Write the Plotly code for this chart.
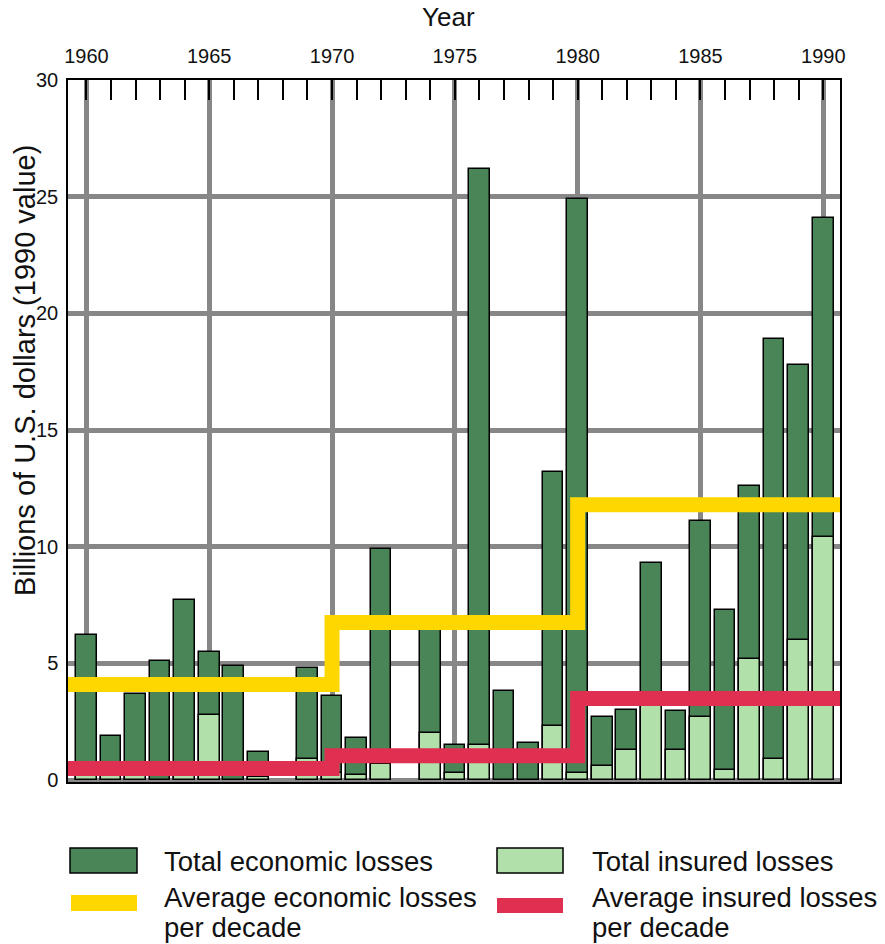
import plotly.graph_objects as go

# ---------------- data ----------------
years = list(range(1960, 1991))
economic_losses = [6.2, 1.9, 3.7, 5.1, 7.7, 5.5, 4.9, 1.2, None, 4.8,
                   3.6, 1.8, 9.9, None, 6.5, 1.5, 26.2, 3.8, 1.6, 13.2,
                   24.9, 2.7, 3.0, 9.3, 2.95, 11.1, 7.3, 12.6, 18.9, 17.8,
                   24.1]
insured_losses = [0.3, 0.3, 0.3, None, 0.3, 2.8, None, 0.15, None, 0.9,
                  0.3, 0.2, 0.7, None, 2.0, 0.3, 1.5, None, None, 2.3,
                  0.3, 0.6, 1.3, 3.3, 1.3, 2.7, 0.43, 5.2, 0.9, 6.0,
                  10.4]
decade_edges = [1959.25, 1970, 1980, 1990.68]
avg_economic = [4.1, 6.75, 11.8, 11.8]
avg_insured = [0.5, 1.04, 3.5, 3.5]
major_years = [1960, 1965, 1970, 1975, 1980, 1985, 1990]
y_ticks = [0, 5, 10, 15, 20, 25, 30]

DARK = "#4a8558"
LIGHT = "#b2e0aa"
YELLOW = "#ffd700"
RED = "#e03052"
GRID = "#878787"
FONT = "Liberation Sans, Arial, sans-serif"

fig = go.Figure()
fig.add_trace(go.Bar(x=years, y=economic_losses, width=0.84,
                     marker=dict(color=DARK, line=dict(color="black", width=1.5)),
                     name="Total economic losses"))
fig.add_trace(go.Bar(x=years, y=insured_losses, width=0.84,
                     marker=dict(color=LIGHT, line=dict(color="black", width=1.5)),
                     name="Total insured losses"))
fig.add_trace(go.Scatter(x=decade_edges, y=avg_economic, mode="lines",
                         line=dict(color=YELLOW, width=15, shape="hv"),
                         name="Average economic losses per decade"))
fig.add_trace(go.Scatter(x=decade_edges, y=avg_insured, mode="lines",
                         line=dict(color=RED, width=15, shape="hv"),
                         name="Average insured losses per decade"))

# legend drawn manually (paper coordinates, from page pixel positions)
def px_x(p):
    return (p - 68) / 772

def px_y(p):
    return (782 - p) / 702

shapes = [
    dict(type="rect", xref="paper", yref="paper", x0=px_x(70), x1=px_x(137),
         y0=px_y(848), y1=px_y(873), fillcolor=DARK, line=dict(color="black", width=1.5)),
    dict(type="rect", xref="paper", yref="paper", x0=px_x(497), x1=px_x(563),
         y0=px_y(848), y1=px_y(873), fillcolor=LIGHT, line=dict(color="black", width=1.5)),
    dict(type="rect", xref="paper", yref="paper", x0=px_x(71), x1=px_x(137),
         y0=px_y(895), y1=px_y(911), fillcolor=YELLOW, line=dict(width=0)),
    dict(type="rect", xref="paper", yref="paper", x0=px_x(497), x1=px_x(563),
         y0=px_y(898), y1=px_y(913), fillcolor=RED, line=dict(width=0)),
]

legend_font = dict(family=FONT, size=27.5, color="#111")

def legend_text(text, x, y):
    return dict(text=text, xref="paper", yref="paper", x=px_x(x), y=px_y(y),
                xanchor="left", yanchor="middle", showarrow=False, font=legend_font)

annotations = [
    legend_text("Total economic losses", 162, 862),
    legend_text("Total insured losses", 590, 862),
    legend_text("Average economic losses", 162, 897),
    legend_text("per decade", 162, 927),
    legend_text("Average insured losses", 590, 897),
    legend_text("per decade", 590, 927),
    dict(text="Year", xref="paper", yref="paper", x=px_x(448), y=px_y(17),
         xanchor="center", yanchor="middle", showarrow=False,
         font=dict(family=FONT, size=26, color="#111")),
    dict(text="Billions of U.S. dollars (1990 value)", xref="paper", yref="paper",
         x=px_x(25), y=px_y(371), xanchor="center", yanchor="middle", textangle=-90,
         showarrow=False, font=dict(family=FONT, size=29, color="#111")),
]

fig.update_layout(
    width=885, height=944,
    margin=dict(l=68, r=45, t=80, b=162),
    plot_bgcolor="white", paper_bgcolor="white",
    barmode="overlay", bargap=0, showlegend=False,
    shapes=shapes, annotations=annotations,
    font=dict(family=FONT, size=20, color="#111"),
)
fig.update_xaxes(
    side="top", range=[decade_edges[0], decade_edges[-1]],
    tickmode="array", tickvals=major_years, ticktext=[str(y) for y in major_years],
    ticks="", showgrid=True, gridcolor=GRID, gridwidth=5,
    showline=True, mirror=True, linecolor="black", linewidth=1.5,
    zeroline=False, ticklabelstandoff=7,
    tickfont=dict(family=FONT, size=20, color="#111"),
    minor=dict(tickmode="linear", tick0=1960, dtick=1, ticks="inside", ticklen=20,
               tickwidth=1.5, tickcolor="black", showgrid=False),
)
fig.update_yaxes(
    range=[-0.08, 30], tickmode="array", tickvals=y_ticks,
    ticks="", showgrid=True, gridcolor=GRID, gridwidth=5,
    showline=True, mirror=True, linecolor="black", linewidth=1.5,
    zeroline=False, ticklabelstandoff=4,
    tickfont=dict(family=FONT, size=20, color="#111"),
)

# remove the default 8px page margin so the figure fills the window exactly
fig.write_html("out.html",
               config={"displayModeBar": False},
               post_script="document.body.style.margin='0';document.body.style.overflow='hidden';")
